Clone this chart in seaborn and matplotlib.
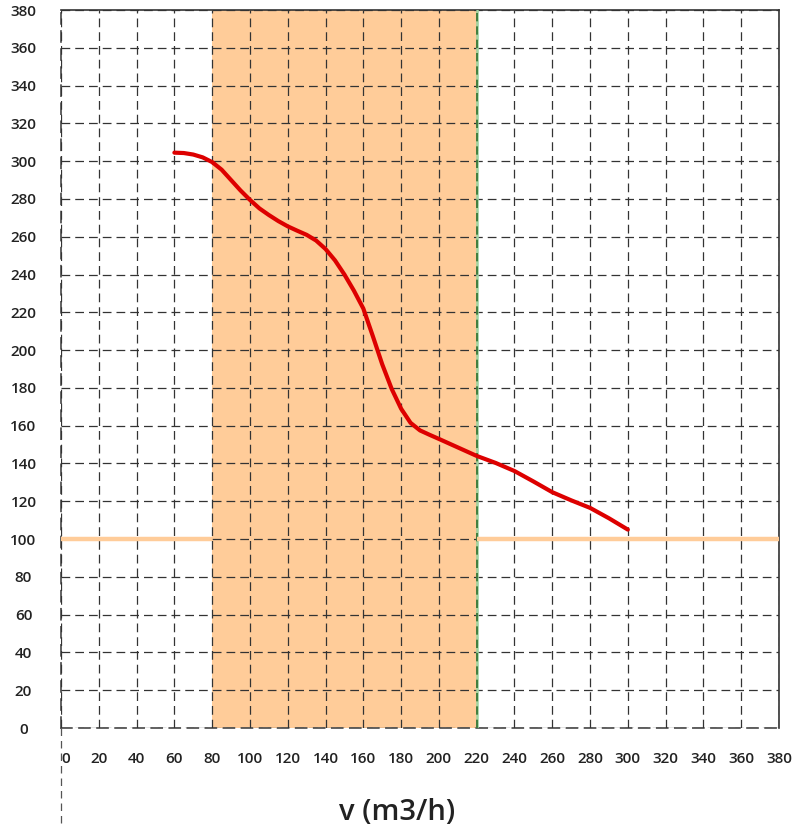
import numpy as np
import pandas as pd
import matplotlib
matplotlib.use("Agg")
import matplotlib.pyplot as plt
import seaborn as sns
from matplotlib.lines import Line2D

# Data
flow = [60, 65, 70, 75, 80, 85, 90, 95, 100, 105, 110, 115, 120, 125, 130, 135, 140, 145, 150, 155,
        160, 165, 170, 175, 180, 185, 190, 195, 200, 210, 220, 230, 240, 250, 260, 270, 280, 290, 300]
pressure = [304.5, 304.3, 303.5, 302, 299.5, 295.5, 290, 284.5, 279.5, 275, 271.5, 268.3, 265.5, 263.2, 261, 258, 253.5, 247.5, 240, 231.5,
            222, 207.5, 192.5, 179.5, 169, 161.5, 157.5, 155.2, 153, 148.5, 144, 140.3, 136, 130.5, 124.8, 120.5, 116.5, 111, 105]
band_range = [80, 220]
ref_level = 100
ticks = list(range(0, 381, 20))
xlabel = "v (m3/h)"

sns.set_theme(style="white")
plt.rcParams["font.family"] = ["Open Sans", "DejaVu Sans"]

fig = plt.figure(figsize=(7.95, 8.32), dpi=100)
ax = fig.add_axes([61/795, 104/832, 718/795, 718/832])

df = pd.DataFrame({"v": flow, "p": pressure})

ax.axvspan(band_range[0], band_range[1], color="#FFCC99", zorder=0, lw=0)
ax.plot([0, band_range[0]], [ref_level, ref_level], color="#FFCC99", lw=3.2, zorder=3, solid_capstyle="butt")
ax.plot([band_range[1], 380], [ref_level, ref_level], color="#FFCC99", lw=3.2, zorder=3, solid_capstyle="butt")
ax.axvline(band_range[1], color="#9fd49f", lw=1.8, zorder=2.6)
ax.axvline(band_range[1], color="#2f6f2f", lw=1.2, ls=(0, (5, 3)), zorder=2.7)

sns.lineplot(data=df, x="v", y="p", ax=ax, color="#DD0000", lw=3, zorder=4, estimator=None, sort=False)

ax.set_xlim(0, 380)
ax.set_ylim(0, 380)
ax.set_xticks(ticks)
ax.set_yticks(ticks)
ax.set_xticklabels([str(t) for t in ticks])
ax.set_yticklabels([str(t) for t in ticks])
ax.set_axisbelow(False)
ax.grid(True, color="#333333", lw=0.9, ls=(0, (7, 4)), zorder=2.5)

ax.tick_params(axis="both", length=0, labelsize=11, colors="#222222")
ax.tick_params(axis="y", pad=27)
ax.tick_params(axis="x", pad=17)
for lab in ax.get_yticklabels() + ax.get_xticklabels():
    lab.set_fontweight("semibold")
for lab in ax.get_yticklabels():
    lab.set_horizontalalignment("center")
xl = ax.get_xticklabels()
xl[0].set_horizontalalignment("left")

ax.set_xlabel(xlabel, fontsize=21, fontweight="semibold", color="#222222")
ax.xaxis.set_label_coords((397 - 61) / 718, -(813 - 728) / 718)
ax.xaxis.label.set_verticalalignment("center")
ax.set_ylabel("")

for s in ["top", "right"]:
    ax.spines[s].set_color("#333333")
    ax.spines[s].set_linewidth(1.2)
for s in ["left", "bottom"]:
    ax.spines[s].set_color("#555555")
    ax.spines[s].set_linewidth(1.3)
    ax.spines[s].set_linestyle((0, (6, 4)))

ext = Line2D([0, 0], [0, -100/718], transform=ax.transAxes, color="#555555", lw=0.9,
             ls=(0, (6, 4)), clip_on=False)
ax.add_line(ext)

fig.savefig("out.png", dpi=100)
